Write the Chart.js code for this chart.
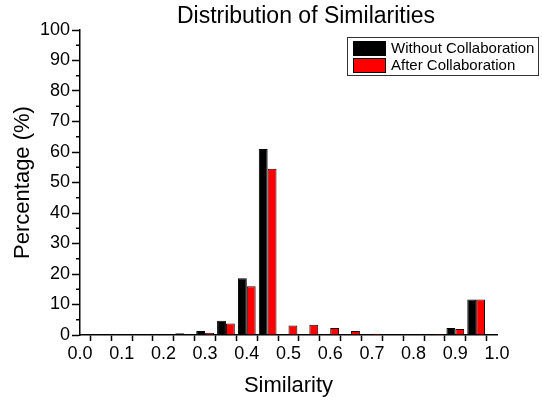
<!DOCTYPE html>
<html>
<head>
<meta charset="utf-8">
<script src="https://cdn.jsdelivr.net/npm/chart.js@4.4.1/dist/chart.umd.min.js"></script>
<style>
  body { margin: 0; background: #fff; }
</style>
</head>
<body>
<canvas id="myChart" width="542" height="402"></canvas>
<script>
const chartTitle = 'Distribution of Similarities';
const seriesNames = ['Without Collaboration', 'After Collaboration'];
const seriesColors = ['#000000', '#ff0000'];

// bin centres (similarity) and percentage per bin
const binCenters = [0.05, 0.10, 0.15, 0.20, 0.25, 0.30, 0.35, 0.40, 0.45, 0.50,
                    0.55, 0.60, 0.65, 0.70, 0.75, 0.80, 0.85, 0.90, 0.95];
const withoutCollab = [0, 0.05, 0.1, 0.2, 0.6, 1.3, 4.7, 18.6, 61.0, 0.2,
                       0.1, 0.05, 0.05, 0.1, 0.15, 0.2, 0.3, 2.3, 11.6];
const afterCollab = [0, 0.05, 0.1, 0.1, 0.2, 0.7, 3.8, 16.0, 54.5, 3.1,
                     3.4, 2.3, 1.3, 0.45, 0.2, 0.2, 0.3, 2.0, 11.6];

const xMajorTicks = [0.0, 0.1, 0.2, 0.3, 0.4, 0.5, 0.6, 0.7, 0.8, 0.9, 1.0];
const xMinorTicks = [0.05, 0.15, 0.25, 0.35, 0.45, 0.55, 0.65, 0.75, 0.85, 0.95];
const yMajorTicks = [0, 10, 20, 30, 40, 50, 60, 70, 80, 90, 100];
const yMinorTicks = [5, 15, 25, 35, 45, 55, 65, 75, 85, 95];

const fontFamily = 'Arial, "Liberation Sans", sans-serif';
Chart.defaults.font.family = fontFamily;
Chart.defaults.color = '#000';

function toPoints(values) {
  return binCenters.map((x, i) => ({x: x, y: values[i]}));
}

const extras = {
  id: 'extras',
  afterDraw(chart) {
    const ctx = chart.ctx;
    const area = chart.chartArea;
    const yScale = chart.scales.y;
    ctx.save();

    // short minor ticks on the y axis
    ctx.strokeStyle = '#000';
    ctx.lineWidth = 1.5;
    yMinorTicks.forEach(v => {
      const py = yScale.getPixelForValue(v);
      ctx.beginPath();
      ctx.moveTo(area.left - 4, py);
      ctx.lineTo(area.left, py);
      ctx.stroke();
    });

    // title
    ctx.fillStyle = '#000';
    ctx.font = '23px ' + fontFamily;
    ctx.textAlign = 'center';
    ctx.textBaseline = 'middle';
    ctx.fillText(chartTitle, 306, 17);

    // legend box
    ctx.fillStyle = '#fff';
    ctx.fillRect(347.5, 37.5, 191, 38);
    ctx.strokeStyle = '#333';
    ctx.lineWidth = 1;
    ctx.strokeRect(347.5, 37.5, 191, 38);
    ctx.font = '15px ' + fontFamily;
    ctx.textAlign = 'left';
    chart.data.datasets.forEach((ds, i) => {
      const top = 41 + i * 17;
      ctx.fillStyle = ds.backgroundColor;
      ctx.fillRect(353, top, 33, 15);
      ctx.strokeStyle = '#000';
      ctx.strokeRect(353.5, top + 0.5, 32, 14);
      ctx.fillStyle = '#000';
      ctx.fillText(ds.label, 391, top + 8);
    });
    ctx.restore();
  }
};

var ctx = document.getElementById('myChart').getContext('2d');
var myChart = new Chart(ctx, {
  type: 'bar',
  data: {
    datasets: [{
      label: seriesNames[0],
      data: toPoints(withoutCollab),
      backgroundColor: seriesColors[0],
      borderColor: '#000',
      borderWidth: 1
    }, {
      label: seriesNames[1],
      data: toPoints(afterCollab),
      backgroundColor: seriesColors[1],
      borderColor: '#200',
      borderWidth: 1
    }]
  },
  options: {
    responsive: false,
    animation: false,
    categoryPercentage: 0.85,
    barPercentage: 1.0,
    layout: {
      padding: {top: 30, right: 45, left: 0, bottom: 0}
    },
    plugins: {
      legend: {display: false},
      title: {display: false},
      tooltip: {enabled: false}
    },
    scales: {
      x: {
        type: 'linear',
        min: 0,
        max: 1,
        offset: false,
        afterBuildTicks: s => {
          s.ticks = xMajorTicks.concat(xMinorTicks).sort((a, b) => a - b).map(v => ({value: v}));
        },
        afterFit: s => { s.height = 67; },
        ticks: {
          autoSkip: false,
          maxRotation: 0,
          padding: 2,
          font: {size: 18},
          callback: v => xMajorTicks.includes(v) ? v.toFixed(1) : ''
        },
        grid: {
          drawOnChartArea: false,
          drawTicks: true,
          tickLength: 6,
          tickWidth: 1.5,
          tickColor: '#000'
        },
        border: {display: true, color: '#000', width: 1.5},
        title: {
          display: true,
          text: 'Similarity',
          font: {size: 22},
          padding: {top: 0, bottom: 3}
        }
      },
      y: {
        min: 0,
        max: 100,
        afterBuildTicks: s => {
          s.ticks = yMajorTicks.map(v => ({value: v}));
        },
        afterFit: s => { s.width = 80; },
        ticks: {
          padding: 2,
          font: {size: 18}
        },
        grid: {
          drawOnChartArea: false,
          drawTicks: true,
          tickLength: 8,
          tickWidth: 1.5,
          tickColor: '#000'
        },
        border: {display: true, color: '#000', width: 1.5},
        title: {
          display: true,
          text: 'Percentage (%)',
          font: {size: 22},
          padding: {top: 10, bottom: 0}
        }
      }
    }
  },
  plugins: [extras]
});
</script>
</body>
</html>
